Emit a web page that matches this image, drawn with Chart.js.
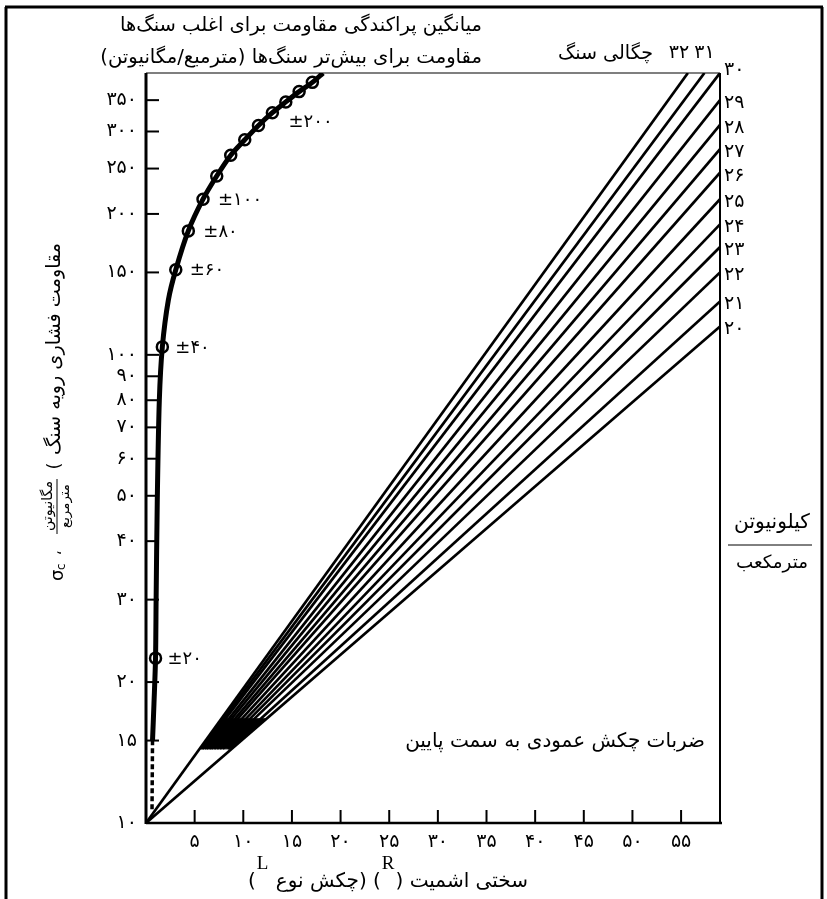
<!DOCTYPE html>
<html>
<head>
<meta charset="utf-8">
<script src="https://cdn.jsdelivr.net/npm/chart.js@4.4.1/dist/chart.umd.min.js"></script>
<style>
  html, body { margin: 0; padding: 0; background: #fff; }
  #wrap { width: 827px; height: 899px; }
</style>
</head>
<body>
<div id="wrap"><canvas id="c" width="827" height="899"></canvas></div>
<script>
// ── data ──
const densities  = [20, 21, 22, 23, 24, 25, 26, 27, 28, 29, 30, 31, 32];
const lineStartR = [0, 8.4, 7.9, 7.6, 7.3, 7.0, 6.7, 6.5, 6.25, 6.05, 5.8, 5.65, 0];
const lineStartS = [10, 14.4, 14.4, 14.4, 14.4, 14.4, 14.4, 14.4, 14.4, 14.4, 14.4, 14.4, 10];
const lineEndR   = [59, 59, 59, 59, 59, 59, 59, 59, 59, 59, 59, 57.4, 55.7];
const lineEndS   = [115, 130, 150, 170, 190, 215, 245, 275, 310, 350, 400, 400, 400];

// solid black wedge where the density lines merge
const wedgeR = [5.49, 8.79, 12.4, 7.75];
const wedgeS = [14.4, 14.4, 16.7, 16.7];

const curveR = [0.67, 0.82, 0.98, 1.04, 1.16, 1.37, 1.68, 2.3, 3.06, 4.35, 5.86, 7.27, 8.71, 10.15, 11.56, 12.99, 14.37, 15.74, 17.1, 18.2];
const curveS = [15, 18, 22.5, 30, 49, 80, 104, 131, 152, 184, 215, 241, 267, 288, 309, 329, 347, 365, 382, 400];
const dashR  = [0.62, 0.67];
const dashS  = [10.7, 15];

const circleR = [0.98, 1.68, 3.06, 4.35, 5.86, 7.27, 8.71, 10.15, 11.56, 12.99, 14.37, 15.74, 17.1];
const circleS = [22.5, 104, 152, 184, 215, 241, 267, 288, 309, 329, 347, 365, 382];
const circleTags = ['±۲۰', '±۴۰', '±۶۰', '±۸۰', '±۱۰۰', '', '', '', '±۲۰۰', '', '', '', ''];

const xTicks = [5, 10, 15, 20, 25, 30, 35, 40, 45, 50, 55];
const yTicks = [10, 15, 20, 30, 40, 50, 60, 70, 80, 90, 100, 150, 200, 250, 300, 350];

const FONT = '"DejaVu Sans", sans-serif';
const fa = n => String(n).replace(/\d/g, d => '۰۱۲۳۴۵۶۷۸۹'[d]);
const pts = (xs, ys) => xs.map((v, i) => ({ x: v, y: ys[i] }));

// text helper: optional target width squeezes/stretches font size
function txt(ctx, s, x, y, size, align, width, dir) {
  ctx.direction = dir || 'ltr';
  ctx.font = size + 'px ' + FONT;
  if (width) {
    const w = ctx.measureText(s).width;
    ctx.font = (size * width / w).toFixed(2) + 'px ' + FONT;
  }
  ctx.textAlign = align;
  ctx.textBaseline = 'middle';
  ctx.fillText(s, x, y);
}
function seg(ctx, x1, y1, x2, y2) {
  ctx.beginPath(); ctx.moveTo(x1, y1); ctx.lineTo(x2, y2); ctx.stroke();
}

const decor = {
  id: 'decor',
  afterDatasetsDraw(chart) {
    const { ctx, chartArea: a, scales: { x, y } } = chart;
    ctx.save();
    ctx.strokeStyle = '#000';
    ctx.fillStyle = '#000';

    // inward ticks
    ctx.lineWidth = 2;
    yTicks.forEach(v => { const py = y.getPixelForValue(v); seg(ctx, a.left, py, a.left + 13, py); });
    xTicks.forEach(v => { const px = x.getPixelForValue(v); seg(ctx, px, a.bottom, px, a.bottom - 13); });

    // plot frame
    ctx.lineWidth = 3;   seg(ctx, a.left, a.top, a.left, a.bottom + 1);
    ctx.lineWidth = 2.5; seg(ctx, a.left, a.bottom, a.right + 2, a.bottom);
    ctx.lineWidth = 1.2; seg(ctx, a.left, a.top, a.right, a.top);
    ctx.lineWidth = 2;   seg(ctx, a.right, a.top, a.right, a.bottom);

    // outer border
    ctx.lineWidth = 3;
    seg(ctx, 6, 7, 6, 899);
    seg(ctx, 5, 7, 823, 7);
    seg(ctx, 822, 7, 822, 899);

    // ± tags next to the circles
    const dx = [12, 13, 14, 15, 15, 0, 0, 0, 30];
    circleTags.forEach((t, i) => {
      if (!t) return;
      const px = x.getPixelForValue(circleR[i]), py = y.getPixelForValue(circleS[i]);
      txt(ctx, t, px + dx[i], py + (i === 8 ? -3 : 1), 18, 'left');
    });

    // density labels
    densities.forEach((d, i) => {
      const px = x.getPixelForValue(lineEndR[i]), py = y.getPixelForValue(lineEndS[i]);
      if (d > 30) txt(ctx, fa(d), px - (d === 32 ? 9 : 0), a.top - 20, 19, 'center');
      else txt(ctx, fa(d), a.right + 4, d === 30 ? py - 3 : py + 3, 19, 'left');
    });
    txt(ctx, 'چگالی سنگ', 653, 54, 18, 'right', 95, 'rtl');

    // titles
    txt(ctx, 'میانگین پراکندگی مقاومت برای اغلب سنگ‌ها', 482, 26, 18, 'right', 362, 'rtl');
    txt(ctx, 'مقاومت برای بیش‌تر سنگ‌ها (مترمبع/مگانیوتن)', 482, 58, 18, 'right', 382, 'rtl');
    txt(ctx, 'ضربات چکش عمودی به سمت پایین', 705, 742, 18, 'right', 300, 'rtl');

    // unit on the right
    txt(ctx, 'کیلونیوتن', 772, 523, 18, 'center', 76, 'rtl');
    ctx.lineWidth = 1;
    seg(ctx, 728, 545, 812, 545);
    txt(ctx, 'مترمکعب', 772, 563, 18, 'center', 72, 'rtl');

    // x-axis title, laid out visually left to right
    const parts = [['(', 0], ['L', 1], [' ', 0], ['چکش نوع', 0], [')', 0], [' ', 0],
                   ['(', 0], ['R', 1], [')', 0], [' ', 0], ['سختی اشمیت', 0]];
    const sizeOf = p => p[1] ? '19px "Liberation Serif", serif' : '20px ' + FONT;
    ctx.direction = 'ltr'; ctx.textAlign = 'left'; ctx.textBaseline = 'middle';
    let total = 0;
    parts.forEach(p => { ctx.font = sizeOf(p); total += ctx.measureText(p[0]).width + (p[1] ? 2 : 0); });
    let cx = 388 - total / 2;
    parts.forEach(p => {
      ctx.font = sizeOf(p);
      ctx.fillText(p[0], cx + (p[1] ? 1 : 0), p[1] ? 864 : 882);
      cx += ctx.measureText(p[0]).width + (p[1] ? 2 : 0);
    });

    // y-axis title, rotated (rotated x runs up the page)
    ctx.save();
    ctx.translate(55, 0);
    ctx.rotate(-Math.PI / 2);
    txt(ctx, 'مقاومت فشاری رویه سنگ', -243, 0, 18, 'right', 212, 'rtl');
    txt(ctx, '(', -466, 0, 18, 'center');
    txt(ctx, 'مگانیوتن', -506, -7, 14, 'center', 50, 'rtl');
    ctx.lineWidth = 1;
    seg(ctx, -534, 2, -479, 2);
    txt(ctx, 'مترمربع', -506, 11, 14, 'center', 44, 'rtl');
    txt(ctx, '،', -553, 2, 16, 'center', 0, 'rtl');
    ctx.restore();
    ctx.save();
    ctx.translate(58, 572);
    ctx.rotate(-Math.PI / 2);
    ctx.direction = 'ltr'; ctx.textAlign = 'left'; ctx.textBaseline = 'middle';
    ctx.font = '18px ' + FONT;
    ctx.fillText('σ', -9, 0);
    ctx.font = '12px ' + FONT;
    ctx.fillText('c', 2, 4);
    ctx.restore();

    ctx.restore();
  }
};

const lineSets = densities.map((d, i) => ({
  label: 'γ ' + d,
  data: pts([lineStartR[i], lineEndR[i]], [lineStartS[i], lineEndS[i]]),
  showLine: true,
  borderColor: '#000',
  borderWidth: 2.7,
  pointRadius: 0,
}));

new Chart(document.getElementById('c'), {
  type: 'scatter',
  data: {
    datasets: [
      {
        label: 'wedge',
        data: pts(wedgeR, wedgeS),
        showLine: true,
        fill: 'shape',
        backgroundColor: '#000',
        borderColor: '#000',
        borderWidth: 1,
        pointRadius: 0,
      },
      ...lineSets,
      {
        label: 'curve',
        data: pts(curveR, curveS),
        showLine: true,
        borderColor: '#000',
        borderWidth: 5,
        pointRadius: 0,
        tension: 0.3,
      },
      {
        label: 'dash',
        data: pts(dashR, dashS),
        showLine: true,
        borderColor: '#000',
        borderWidth: 3.5,
        borderDash: [5, 3],
        pointRadius: 0,
      },
      {
        label: 'scatter',
        data: pts(circleR, circleS),
        showLine: false,
        pointRadius: 5.5,
        pointBorderWidth: 2.5,
        pointBackgroundColor: '#fff',
        pointBorderColor: '#000',
      },
    ]
  },
  options: {
    responsive: false,
    animation: false,
    devicePixelRatio: 1,
    layout: { padding: { left: 0, right: 107, top: 73, bottom: 0 } },
    plugins: { legend: { display: false }, tooltip: { enabled: false } },
    scales: {
      x: {
        type: 'linear', min: 0, max: 59,
        grid: { display: false, drawTicks: false }, border: { display: false },
        afterBuildTicks: s => { s.ticks = xTicks.map(v => ({ value: v })); },
        afterFit: s => { s.height = 76; },
        ticks: { color: '#000', font: { family: FONT, size: 19 }, padding: 8, maxRotation: 0, callback: v => fa(v) },
      },
      y: {
        type: 'logarithmic', min: 10, max: 400,
        grid: { display: false, drawTicks: false }, border: { display: false },
        afterBuildTicks: s => { s.ticks = yTicks.map(v => ({ value: v })); },
        afterFit: s => { s.width = 146; },
        ticks: { color: '#000', font: { family: FONT, size: 19 }, padding: 9, autoSkip: false, callback: v => fa(v) },
      }
    }
  },
  plugins: [decor]
});
</script>
</body>
</html>
